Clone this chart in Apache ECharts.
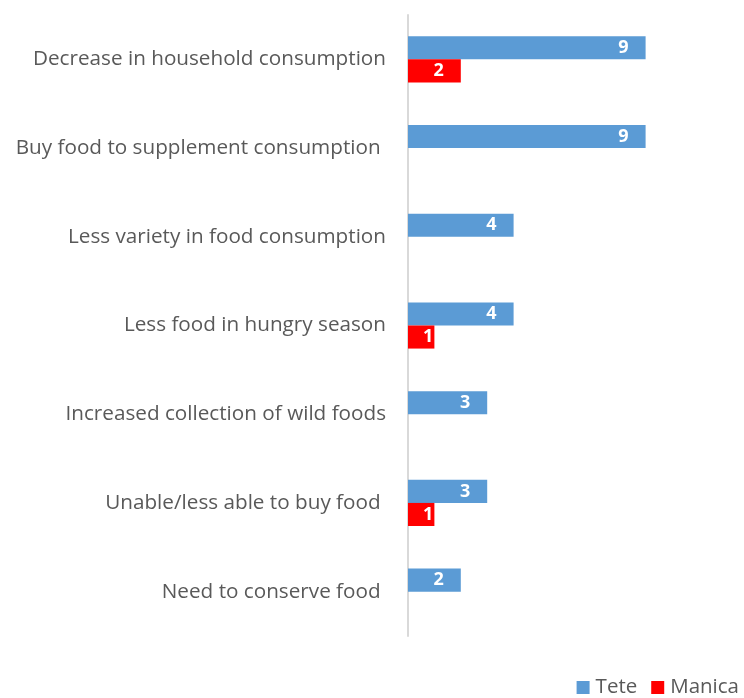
<!DOCTYPE html>
<html><head><meta charset="utf-8">
<script src="https://cdn.jsdelivr.net/npm/echarts@6/dist/echarts.min.js"></script>
<style>html,body{margin:0;padding:0;background:#fff}#c{width:744px;height:698px}</style>
</head><body><div id="c"></div>
<script>
const categories = [
  'Decrease in household consumption',
  'Buy food to supplement consumption ',
  'Less variety in food consumption',
  'Less food in hungry season',
  'Increased collection of wild foods',
  'Unable/less able to buy food ',
  'Need to conserve food '
];
const teteValues = [9, 9, 4, 4, 3, 3, 2];
const manicaValues = [2, null, null, 1, null, 1, null];
const seriesNames = ['Tete', 'Manica'];

const chart = echarts.init(document.getElementById('c'));
const lbl = {show: true, position: 'insideRight', distance: 17, color: '#fff', fontWeight: 'bold', fontSize: 18, fontFamily: 'Open Sans'};
// short bars: label hugs the bar end so it stays inside
const fit = v => (v !== null && v < 2) ? {value: v, label: {distance: 1}} : v;
chart.setOption({
  animation: false,
  grid: {left: 408, right: 72, top: 15, bottom: 62},
  xAxis: {type: 'value', min: 0, max: 10, show: false},
  yAxis: {
    type: 'category', data: categories, inverse: true,
    axisLine: {show: true, lineStyle: {color: '#d9d9d9', width: 2}},
    axisTick: {show: false},
    axisLabel: {color: '#595959', fontSize: 20.7, fontFamily: 'Open Sans', margin: 22}
  },
  legend: {
    right: 0, bottom: -5, itemWidth: 13, itemHeight: 13, itemGap: 14,
    icon: 'rect',
    textStyle: {color: '#595959', fontSize: 20.5, fontFamily: 'Open Sans', padding: [0,0,0,1]}
  },
  series: [
    {name: seriesNames[0], type: 'bar', data: teteValues.map(fit), barGap: '0%', barCategoryGap: '48%',
     itemStyle: {color: '#5b9bd5'}, label: lbl},
    {name: seriesNames[1], type: 'bar', data: manicaValues.map(fit),
     itemStyle: {color: '#ff0000'}, label: lbl}
  ]
});
</script></body></html>
